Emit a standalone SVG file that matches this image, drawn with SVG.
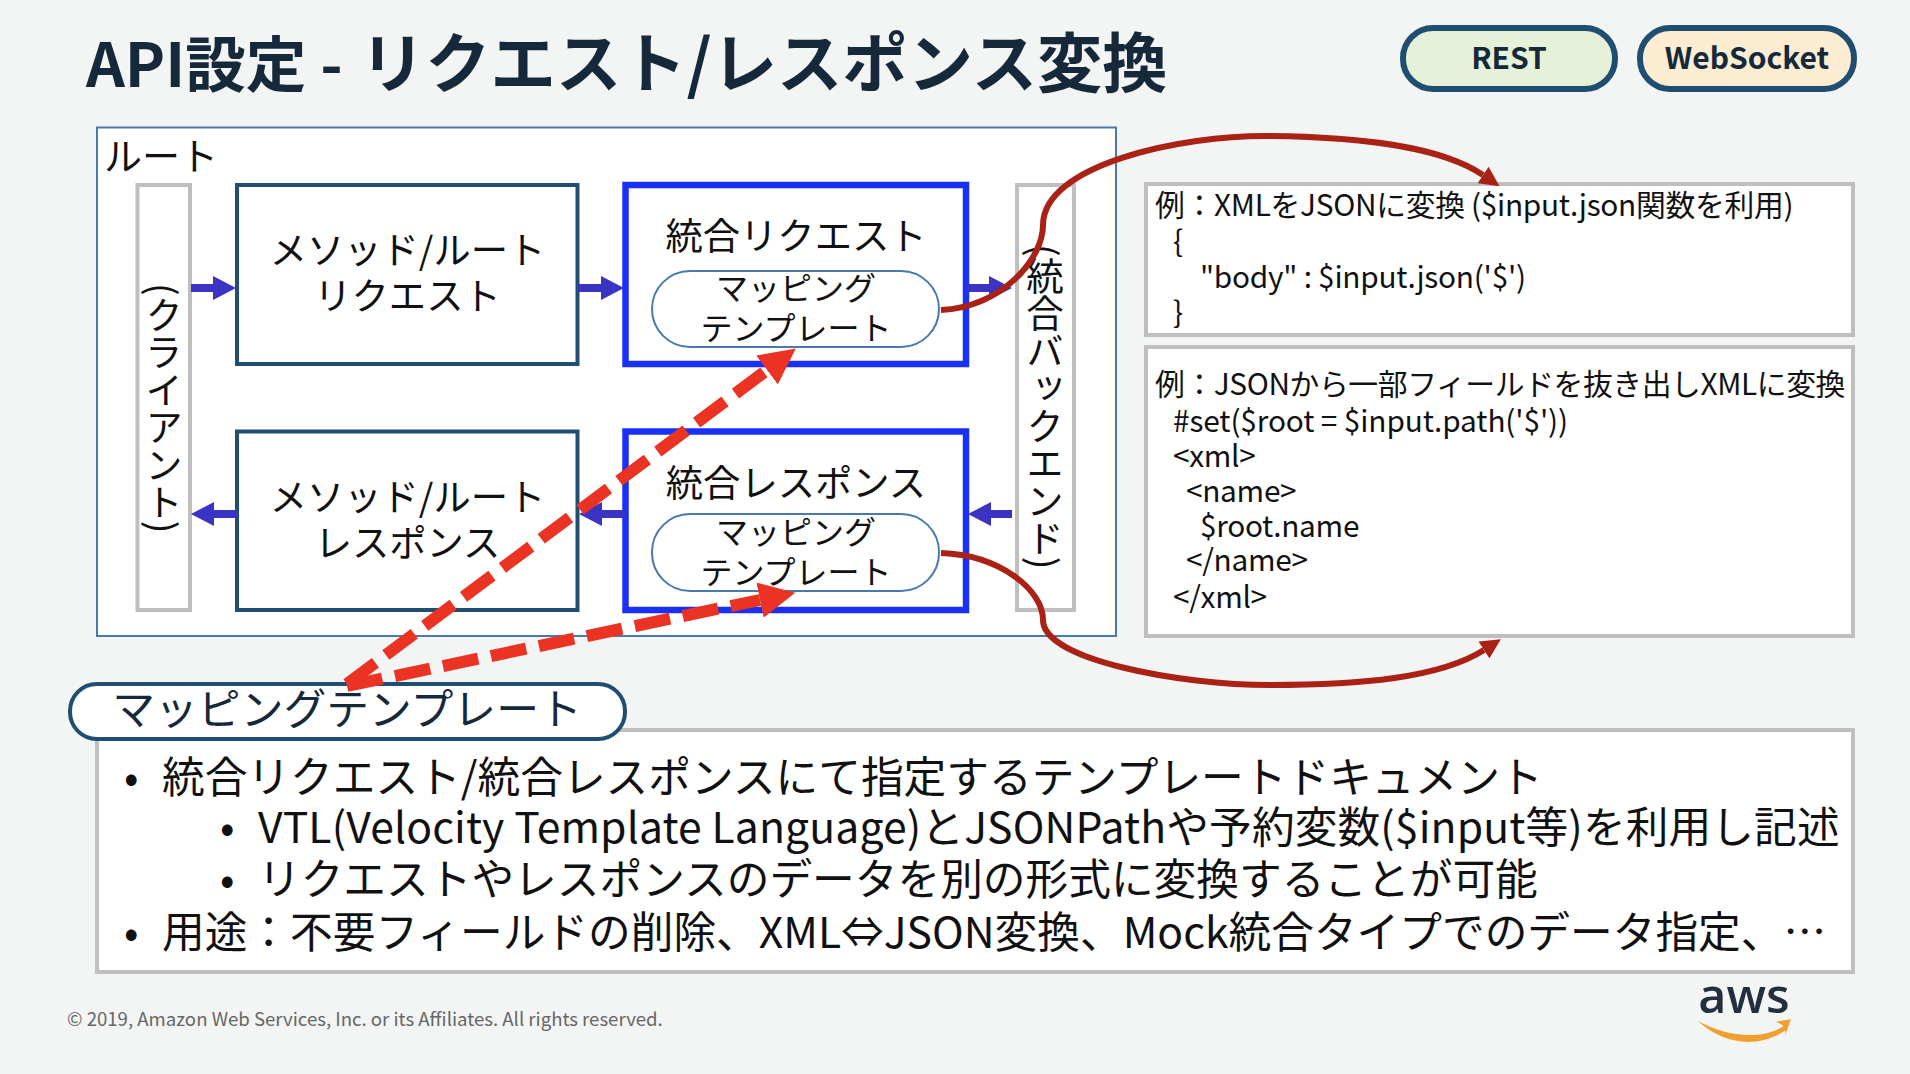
<svg xmlns="http://www.w3.org/2000/svg" width="1910" height="1074" viewBox="0 0 1910 1074">
<defs>
<marker id="blueHead" markerUnits="userSpaceOnUse" markerWidth="23" markerHeight="24" refX="0" refY="12" orient="auto"><path d="M0 0L23 12L0 24Z" fill="#3a33c4"/></marker>
<marker id="redHead" markerUnits="userSpaceOnUse" markerWidth="36" markerHeight="36" refX="0" refY="18" orient="auto"><path d="M0 0L36 18L0 36Z" fill="#ea3323"/></marker>
<marker id="darkHead" markerUnits="userSpaceOnUse" markerWidth="20" markerHeight="20" refX="0" refY="10" orient="auto"><path d="M0 0L20 10L0 20Z" fill="#aa2116"/></marker>
</defs>
<style>
text{font-family:"Noto Sans CJK JP","Noto Sans",sans-serif;fill:#111}
.box{fill:#fff;stroke:#bfbfbf;stroke-width:4}
.m{fill:#fff;stroke:#1f4e70;stroke-width:4}
.i{fill:#fff;stroke:#1a31f5;stroke-width:6.500}
.p{fill:#fff;stroke:#4a7aad;stroke-width:2}
.c{text-anchor:middle}
.l{font-size:37.300px}
.s{font-size:32px}
.v{font-size:37.500px;writing-mode:vertical-rl}
.r{font-size:29.800px;letter-spacing:-.3px}
.b{font-size:42.700px}
.blue{fill:none;stroke:#3a33c4;stroke-width:8;marker-end:url(#blueHead)}
.red{fill:none;stroke:#ea3323;stroke-width:12;stroke-dasharray:36 13;marker-end:url(#redHead)}
.dark{fill:none;stroke:#aa2116;stroke-width:6;marker-end:url(#darkHead)}
.tag{stroke:#1f4e70;stroke-width:6}
.tt{font-size:30px;font-weight:700;fill:#16293a;text-anchor:middle}
.h{font-weight:700;fill:#16293a}
</style>
<rect width="1910" height="1074" fill="#f3f5f4"/>
<g id="title"><text class="h" x="86" y="87" font-size="60.600" style="fill:#16293a">API設定 -</text><text class="h" x="360" y="87" font-size="65.300" style="fill:#16293a">リクエスト/レスポンス変換</text></g>
<g id="tag-rest"><rect class="tag" x="1403" y="28" width="212" height="61" rx="30" fill="#e5f1d8"/><text class="tt" x="1509" y="68.500">REST</text></g>
<g id="tag-websocket"><rect class="tag" x="1640" y="28" width="214" height="61" rx="30" fill="#fcecd2"/><text class="tt" x="1747" y="68.500">WebSocket</text></g>
<g id="root"><rect x="97" y="127.500" width="1019" height="508.500" fill="#fff" stroke="#4a7aad" stroke-width="2"/><text class="l" x="104" y="170" style="font-size:38px">ルート</text></g>
<g id="client"><rect class="box" x="137.500" y="185" width="52.500" height="425"/><text class="v" x="164" y="283">(クライアント)</text></g>
<g id="backend"><rect class="box" x="1017" y="185" width="57" height="425"/><text class="v" x="1045" y="244">(統合バックエンド)</text></g>
<g id="method-request"><rect class="m" x="237" y="185" width="340.500" height="179"/><text class="l c" x="407.500" y="264">メソッド/ルート</text><text class="l c" x="407.500" y="310">リクエスト</text></g>
<g id="method-response"><rect class="m" x="237" y="431.500" width="340.500" height="178.500"/><text class="l c" x="407.500" y="511">メソッド/ルート</text><text class="l c" x="407.500" y="557">レスポンス</text></g>
<g id="integration-request"><rect class="i" x="625.500" y="185" width="340.500" height="179"/><text class="l c" x="796" y="250">統合リクエスト</text><rect class="p" x="652" y="271" width="287" height="76" rx="38"/><text class="s c" x="796" y="300">マッピング</text><text class="s c" x="796" y="340">テンプレート</text></g>
<g id="integration-response"><rect class="i" x="625.500" y="431.500" width="340.500" height="178.500"/><text class="l c" x="796" y="497">統合レスポンス</text><rect class="p" x="652" y="514" width="287" height="77" rx="38"/><text class="s c" x="796" y="544">マッピング</text><text class="s c" x="796" y="584">テンプレート</text></g>
<g id="example-request"><rect class="box" x="1146" y="184" width="707" height="151"/>
<text class="r" x="1155" y="216">例：XMLをJSONに変換 ($input.json関数を利用)</text>
<text class="r" x="1173" y="252">{</text><text class="r" x="1200" y="288" style="letter-spacing:-.25px">"body" : $input.json('$')</text><text class="r" x="1173" y="323">}</text></g>
<g id="example-response"><rect class="box" x="1146" y="347" width="707" height="289"/>
<text class="r" x="1155" y="395" style="letter-spacing:-.4px">例：JSONから一部フィールドを抜き出しXMLに変換</text>
<text class="r" x="1173" y="432" style="letter-spacing:-.12px">#set($root = $input.path('$'))</text>
<text class="r" x="1173" y="467">&lt;xml&gt;</text>
<text class="r" x="1186" y="502">&lt;name&gt;</text>
<text class="r" x="1200" y="537">$root.name</text>
<text class="r" x="1186" y="571">&lt;/name&gt;</text>
<text class="r" x="1173" y="608">&lt;/xml&gt;</text></g>
<g id="notes"><rect class="box" x="97" y="730" width="1756" height="242"/>
<text class="b" x="124" y="793">•</text><text class="b" x="162" y="793">統合リクエスト/統合レスポンスにて指定するテンプレートドキュメント</text>
<text class="b" x="220" y="843">•</text><text class="b" x="258" y="843" style="letter-spacing:.12px">VTL(Velocity Template Language)とJSONPathや予約変数($input等)を利用し記述</text>
<text class="b" x="220" y="895">•</text><text class="b" x="258" y="895">リクエストやレスポンスのデータを別の形式に変換することが可能</text>
<text class="b" x="124" y="948">•</text><text class="b" x="162" y="948">用途：不要フィールドの削除、XML⇔JSON変換、Mock統合タイプでのデータ指定、…</text></g>
<g id="mapping-label"><rect x="70" y="684" width="555" height="55" rx="27" fill="#fff" stroke="#1f4e70" stroke-width="4"/><text class="c" x="347" y="725" font-size="42.800" style="fill:#16293a">マッピングテンプレート</text></g>
<g id="connectors">
<path class="blue" d="M191 288H213"/><path class="blue" d="M577 288H601"/><path class="blue" d="M967 288H989"/>
<path class="blue" d="M237 514H214"/><path class="blue" d="M625 514H602"/><path class="blue" d="M1012 514H991"/>
<path class="red" style="stroke-dasharray:35.500 13" d="M347 684L767 370"/><path class="red" d="M347 686L760 600"/>
<path class="dark" d="M941 310C1000 308 1043 260 1043 225C1043 165 1180 135 1270 136C1360 137 1440 146 1483 175"/>
<path class="dark" d="M941 553C1000 555 1043 590 1043 620C1043 660 1180 685 1270 685C1360 685 1440 678 1484 650"/>
</g>
<text id="footer" x="67" y="1026" font-size="18.600" style="fill:#666">© 2019, Amazon Web Services, Inc. or its Affiliates. All rights reserved.</text>
<g id="aws"><text x="1744" y="1013" font-size="48.500" font-weight="600" text-anchor="middle" style="font-family:'Open Sans',sans-serif;fill:#232f3e">aws</text>
<path d="M1698 1021C1725 1036 1760 1041 1784 1026L1786 1030C1760 1048 1725 1046 1698 1021Z" fill="#f0a030"/><path d="M1775 1022L1791 1019L1785 1036C1787 1029 1783 1023 1775 1022Z" fill="#f0a030"/></g>
</svg>
